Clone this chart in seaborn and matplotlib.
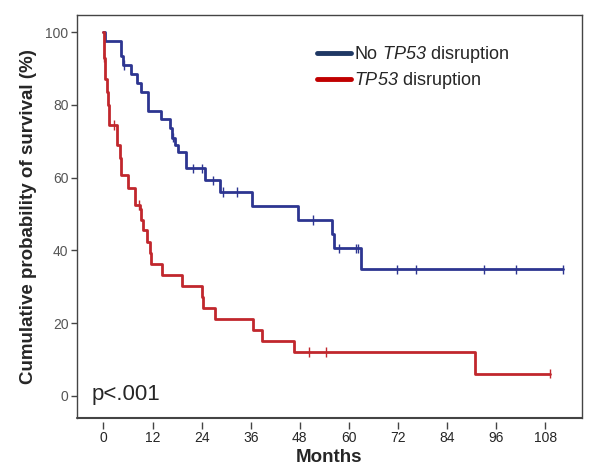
import numpy as np
import pandas as pd
import seaborn as sns
import matplotlib.pyplot as plt
from matplotlib.lines import Line2D

# Kaplan-Meier steps: time in months, survival in %
no_dis_t = [0, 0.3, 4.4, 4.8, 6.8, 8.3, 9.2, 11.0, 14.1, 16.3, 16.8, 17.5, 18.2, 20.3,
            24.8, 28.5, 36.2, 47.6, 55.9, 56.3, 63.0, 112.4]
no_dis_s = [100, 97.5, 93.5, 91.0, 88.6, 86.0, 83.6, 78.3, 76.0, 73.6, 71.0, 69.0, 67.0, 62.6,
            59.3, 56.1, 52.2, 48.4, 44.6, 40.6, 34.8, 34.8]
no_dis_cens = [5.0, 17.0, 21.9, 24.0, 26.8, 29.3, 32.6, 51.2, 57.6, 61.8, 62.3,
               71.7, 76.3, 93.1, 100.8, 112.4]

dis_t = [0, 0.1, 0.5, 0.8, 1.0, 1.3, 3.2, 4.0, 4.4, 6.1, 7.7, 8.9, 9.3, 9.7, 10.6, 11.4,
         11.6, 14.2, 19.1, 24.0, 24.4, 27.3, 36.5, 38.8, 46.6, 90.8, 109.2]
dis_s = [100, 93, 87, 83.6, 80, 74.5, 69, 65.3, 60.7, 57.1, 52.5, 51.5, 48.4, 45.5, 42.4, 39.4,
         36.4, 33.3, 30.3, 27.3, 24.2, 21.2, 18.2, 15.2, 12.1, 6.1, 6.1]
dis_cens = [0.2, 2.5, 8.8, 50.3, 54.4, 109.2]

groups = ["No TP53 disruption", "TP53 disruption"]
labels = [r"No $TP53$ disruption", r"$TP53$ disruption"]
x_ticks = [0, 12, 24, 36, 48, 60, 72, 84, 96, 108]
y_ticks = [0, 20, 40, 60, 80, 100]

sns.set_style("white")
plt.rcParams['font.family'] = ['Liberation Sans', 'DejaVu Sans']
# math text is only used for the italic gene name, digits included
plt.rcParams['mathtext.fontset'] = 'custom'
plt.rcParams['mathtext.it'] = 'Liberation Sans:italic'
plt.rcParams['mathtext.rm'] = 'Liberation Sans:italic'

line_cols = {groups[0]: "#2d3591", groups[1]: "#c1272d"}
legend_cols = ["#1f3864", "#c00000"]


def step_value(t, ts, ss):
    i = np.searchsorted(ts, t, side='right') - 1
    return ss[i]


curves = pd.concat([
    pd.DataFrame({"t": no_dis_t, "s": no_dis_s, "group": groups[0]}),
    pd.DataFrame({"t": dis_t, "s": dis_s, "group": groups[1]}),
])
cens = pd.concat([
    pd.DataFrame({"t": no_dis_cens,
                  "s": [step_value(c, no_dis_t, no_dis_s) for c in no_dis_cens],
                  "group": groups[0]}),
    pd.DataFrame({"t": dis_cens,
                  "s": [step_value(c, dis_t, dis_s) for c in dis_cens],
                  "group": groups[1]}),
])

fig = plt.figure(figsize=(5.91, 4.70), dpi=100)
ax = fig.add_axes([0.130, 0.111, 0.855, 0.857])

sns.lineplot(data=curves, x="t", y="s", hue="group", palette=line_cols,
             drawstyle="steps-post", estimator=None, sort=False, lw=2,
             legend=False, ax=ax)
sns.scatterplot(data=cens, x="t", y="s", hue="group", palette=line_cols,
                marker="|", s=45, linewidth=1, legend=False, ax=ax, zorder=3)

ax.set_xlim(-6.5, 117)
ax.set_ylim(-6, 104.7)
ax.set_xticks(x_ticks)
ax.set_yticks(y_ticks)

tick_font = dict(family=['Liberation Sans Narrow', 'Liberation Sans'], size=10)
ax.set_xticklabels([str(v) for v in x_ticks], color="#555555", fontdict=tick_font)
ax.set_yticklabels([str(v) for v in y_ticks], color="#555555", fontdict=tick_font)

for side in ["left", "right", "top", "bottom"]:
    ax.spines[side].set_color("#444444")
    ax.spines[side].set_linewidth(1)

# detached x ticks like the SPSS output
ax.spines["bottom"].set_position(("outward", 3))
ax.spines["bottom"].set_visible(False)
ax.axhline(-6, color="#444444", lw=1.5, clip_on=False)

ax.tick_params(axis="x", direction="out", length=5, width=1, color="#444444", pad=1.5,
               bottom=True)
ax.tick_params(axis="y", direction="out", length=4, width=1, color="#444444", pad=2,
               left=True)

ax.set_xlabel("Months", fontsize=13.5, fontweight="bold", labelpad=3)
ax.set_ylabel("Cumulative probability of survival (%)", fontsize=13.5,
              fontweight="bold", labelpad=6)

ax.text(0.03, 0.057, "p<.001", transform=ax.transAxes, fontsize=16,
        va="center", ha="left")

handles = [Line2D([0], [0], color=c, lw=3.5) for c in legend_cols]
ax.legend(handles, labels, loc="upper left", bbox_to_anchor=(0.475, 0.928),
          frameon=False, fontsize=13, handlelength=1.9, handletextpad=0.15,
          labelspacing=0.3, borderpad=0, borderaxespad=0)

fig.savefig("out.png", dpi=100)
